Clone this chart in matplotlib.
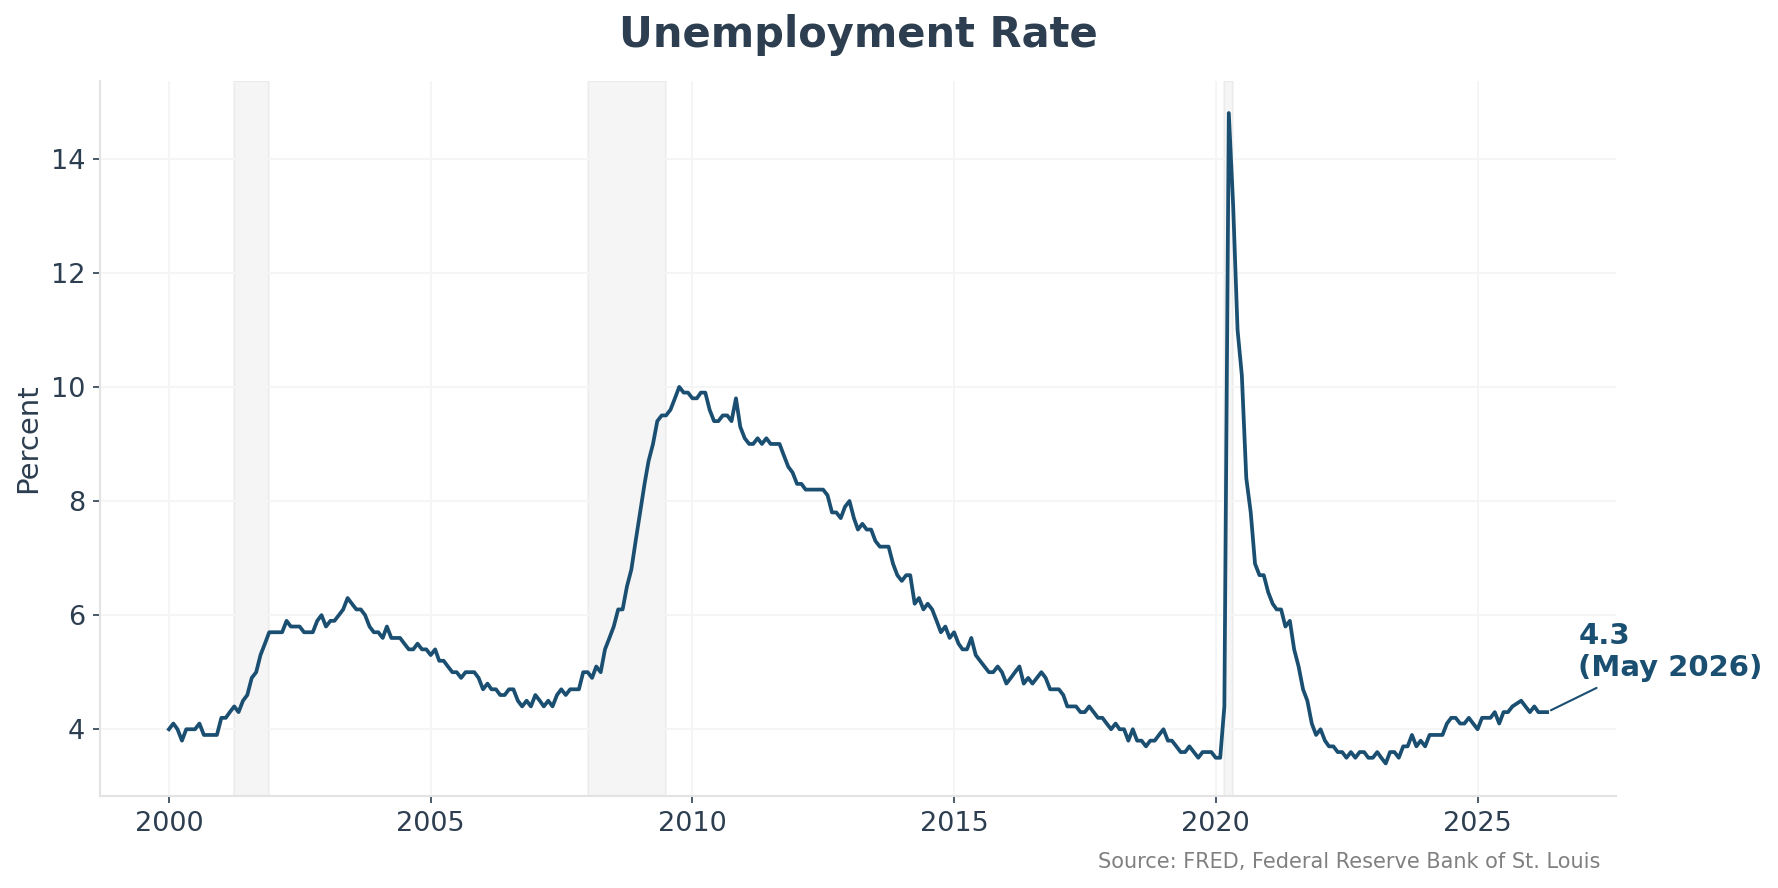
import matplotlib
matplotlib.use("Agg")
import matplotlib.pyplot as plt
import matplotlib.dates as mdates
import pandas as pd

# ---- data (monthly unemployment rate, %) ----
start_month = "2000-01-01"
end_month = "2026-05-01"
missing_months = ["2025-10-01"]  # no release for this month

values = [
    # 2000
    4.0, 4.1, 4.0, 3.8, 4.0, 4.0, 4.0, 4.1, 3.9, 3.9, 3.9, 3.9,
    # 2001
    4.2, 4.2, 4.3, 4.4, 4.3, 4.5, 4.6, 4.9, 5.0, 5.3, 5.5, 5.7,
    # 2002
    5.7, 5.7, 5.7, 5.9, 5.8, 5.8, 5.8, 5.7, 5.7, 5.7, 5.9, 6.0,
    # 2003
    5.8, 5.9, 5.9, 6.0, 6.1, 6.3, 6.2, 6.1, 6.1, 6.0, 5.8, 5.7,
    # 2004
    5.7, 5.6, 5.8, 5.6, 5.6, 5.6, 5.5, 5.4, 5.4, 5.5, 5.4, 5.4,
    # 2005
    5.3, 5.4, 5.2, 5.2, 5.1, 5.0, 5.0, 4.9, 5.0, 5.0, 5.0, 4.9,
    # 2006
    4.7, 4.8, 4.7, 4.7, 4.6, 4.6, 4.7, 4.7, 4.5, 4.4, 4.5, 4.4,
    # 2007
    4.6, 4.5, 4.4, 4.5, 4.4, 4.6, 4.7, 4.6, 4.7, 4.7, 4.7, 5.0,
    # 2008
    5.0, 4.9, 5.1, 5.0, 5.4, 5.6, 5.8, 6.1, 6.1, 6.5, 6.8, 7.3,
    # 2009
    7.8, 8.3, 8.7, 9.0, 9.4, 9.5, 9.5, 9.6, 9.8, 10.0, 9.9, 9.9,
    # 2010
    9.8, 9.8, 9.9, 9.9, 9.6, 9.4, 9.4, 9.5, 9.5, 9.4, 9.8, 9.3,
    # 2011
    9.1, 9.0, 9.0, 9.1, 9.0, 9.1, 9.0, 9.0, 9.0, 8.8, 8.6, 8.5,
    # 2012
    8.3, 8.3, 8.2, 8.2, 8.2, 8.2, 8.2, 8.1, 7.8, 7.8, 7.7, 7.9,
    # 2013
    8.0, 7.7, 7.5, 7.6, 7.5, 7.5, 7.3, 7.2, 7.2, 7.2, 6.9, 6.7,
    # 2014
    6.6, 6.7, 6.7, 6.2, 6.3, 6.1, 6.2, 6.1, 5.9, 5.7, 5.8, 5.6,
    # 2015
    5.7, 5.5, 5.4, 5.4, 5.6, 5.3, 5.2, 5.1, 5.0, 5.0, 5.1, 5.0,
    # 2016
    4.8, 4.9, 5.0, 5.1, 4.8, 4.9, 4.8, 4.9, 5.0, 4.9, 4.7, 4.7,
    # 2017
    4.7, 4.6, 4.4, 4.4, 4.4, 4.3, 4.3, 4.4, 4.3, 4.2, 4.2, 4.1,
    # 2018
    4.0, 4.1, 4.0, 4.0, 3.8, 4.0, 3.8, 3.8, 3.7, 3.8, 3.8, 3.9,
    # 2019
    4.0, 3.8, 3.8, 3.7, 3.6, 3.6, 3.7, 3.6, 3.5, 3.6, 3.6, 3.6,
    # 2020
    3.5, 3.5, 4.4, 14.8, 13.2, 11.0, 10.2, 8.4, 7.8, 6.9, 6.7, 6.7,
    # 2021
    6.4, 6.2, 6.1, 6.1, 5.8, 5.9, 5.4, 5.1, 4.7, 4.5, 4.1, 3.9,
    # 2022
    4.0, 3.8, 3.7, 3.7, 3.6, 3.6, 3.5, 3.6, 3.5, 3.6, 3.6, 3.5,
    # 2023
    3.5, 3.6, 3.5, 3.4, 3.6, 3.6, 3.5, 3.7, 3.7, 3.9, 3.7, 3.8,
    # 2024
    3.7, 3.9, 3.9, 3.9, 3.9, 4.1, 4.2, 4.2, 4.1, 4.1, 4.2, 4.1,
    # 2025 (October missing)
    4.0, 4.2, 4.2, 4.2, 4.3, 4.1, 4.3, 4.3, 4.4, 4.5, 4.4,
    # 2026
    4.3, 4.4, 4.3, 4.3, 4.3,
]

recession_starts = ["2001-04-01", "2008-01-01", "2020-03-01"]
recession_ends = ["2001-12-01", "2009-07-01", "2020-05-01"]

y_ticks = [4, 6, 8, 10, 12, 14]

title = "Unemployment Rate"
y_label = "Percent"
source = "Source: FRED, Federal Reserve Bank of St. Louis"

# ---- build series ----
all_months = pd.date_range(start_month, end_month, freq="MS")
dates = all_months[~all_months.isin(pd.to_datetime(missing_months))]
series = pd.Series(values, index=dates)

# ---- style ----
dark = "#2c3e50"
line_color = "#1b4f72"

fig = plt.figure(figsize=(1778 / 150, 888 / 150), dpi=150)
ax = fig.add_axes([100 / 1778, 92 / 888, (1616 - 100) / 1778, (807.5 - 92) / 888])

for s, e in zip(recession_starts, recession_ends):
    ax.axvspan(pd.Timestamp(s), pd.Timestamp(e), color="gray", alpha=0.08, zorder=0)

ax.plot(series.index, series.values, color=line_color, linewidth=1.8, zorder=3)

ax.grid(True, color="#f5f5f5", linewidth=0.9, zorder=1)
ax.set_axisbelow(True)

ax.xaxis.set_major_locator(mdates.YearLocator(5))
ax.xaxis.set_major_formatter(mdates.DateFormatter("%Y"))
ax.set_yticks(y_ticks)

for sp in ["top", "right"]:
    ax.spines[sp].set_visible(False)
for sp in ["left", "bottom"]:
    ax.spines[sp].set_color("#e3e3e3")
    ax.spines[sp].set_linewidth(1.0)

ax.tick_params(axis="both", colors=dark, labelsize=13, length=3.5, width=0.8)

ax.set_ylabel(y_label, fontsize=14, color=dark, labelpad=4)
ax.set_title(title, fontsize=20, fontweight="bold", color=dark, pad=16)

last_date = series.index[-1]
last_val = series.values[-1]
ax.annotate(
    f"{last_val:.1f}\n({last_date.strftime('%b %Y')})",
    xy=(last_date, last_val),
    xytext=(15, 29),
    textcoords="offset points",
    ha="left",
    va="center",
    fontsize=14,
    fontweight="bold",
    color=line_color,
    arrowprops=dict(arrowstyle="-", color=line_color, lw=1),
    annotation_clip=False,
)

fig.text(0.9, 0.022, source, ha="right", va="baseline", fontsize=10, color="gray")

fig.savefig("out.png", dpi=150)
